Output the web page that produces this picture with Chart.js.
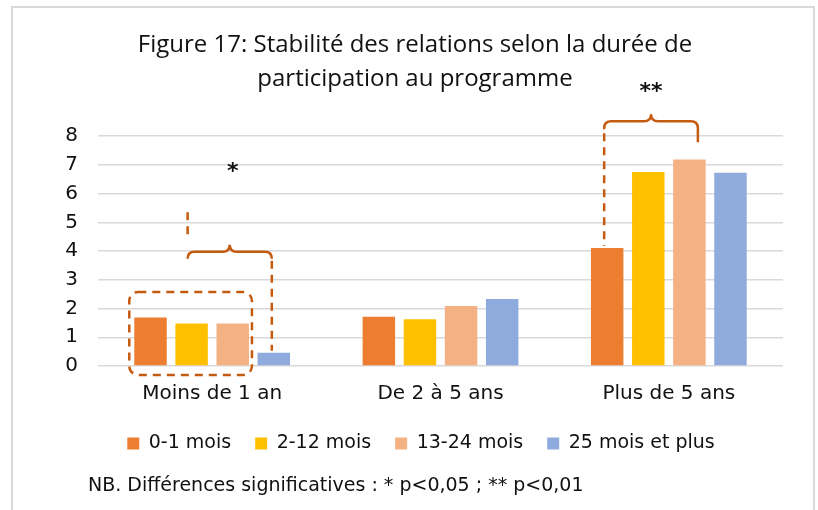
<!DOCTYPE html>
<html lang="fr">
<head>
<meta charset="utf-8">
<title>Figure 17</title>
<script src="https://cdn.jsdelivr.net/npm/chart.js@4"></script>
<style>
    html, body { margin: 0; padding: 0; background: #fff; }
    #wrap { position: relative; width: 818px; height: 510px; overflow: hidden; }
    #frame { position: absolute; left: 11px; top: 6px; width: 800px; height: 520px; border: 2px solid #d9d9d9; }
    #chart { position: absolute; left: 0; top: 0; }
    #note { position: absolute; left: 88px; top: 473px; font-family: "DejaVu Sans", sans-serif; font-size: 19px; color: #111; white-space: nowrap; }
</style>
</head>
<body>
<div id="wrap">
    <div id="frame"></div>
    <canvas id="chart" width="818" height="510"></canvas>
    <div id="note">NB. Différences significatives : * p&lt;0,05 ; ** p&lt;0,01</div>
</div>
<script>
const categories = ['Moins de 1 an', 'De 2 à 5 ans', 'Plus de 5 ans'];
const seriesNames = ['0-1 mois', '2-12 mois', '13-24 mois', '25 mois et plus'];
const mois0_1 = [1.69, 1.71, 4.11];
const mois2_12 = [1.48, 1.63, 6.75];
const mois13_24 = [1.48, 2.09, 7.19];
const mois25plus = [0.46, 2.33, 6.73];
const yTicks = [0, 1, 2, 3, 4, 5, 6, 7, 8];

const colors = ['#ED7D31', '#FFC000', '#F4B183', '#8FAADC'];
const textFont = 'DejaVu Sans';

// curly bracket, drawn solid
function brace(ctx, x1, x2, yy, r, dropLeft, dropRight) {
    const xm = (x1 + x2) / 2;
    ctx.beginPath();
    ctx.moveTo(x1, yy + dropLeft);
    ctx.lineTo(x1, yy + r);
    ctx.quadraticCurveTo(x1, yy, x1 + r, yy);
    ctx.lineTo(xm - r, yy);
    ctx.quadraticCurveTo(xm, yy, xm, yy - r);
    ctx.quadraticCurveTo(xm, yy, xm + r, yy);
    ctx.lineTo(x2 - r, yy);
    ctx.quadraticCurveTo(x2, yy, x2, yy + r);
    ctx.lineTo(x2, yy + dropRight);
    ctx.stroke();
}

function dashed(ctx, x, y1, y2) {
    ctx.save();
    ctx.setLineDash([8, 6]);
    ctx.beginPath();
    ctx.moveTo(x, y1);
    ctx.lineTo(x, y2);
    ctx.stroke();
    ctx.restore();
}

const bracketPlugin = {
    id: 'brackets',
    afterLayout(chart) {
        // legend sits a little right of the title in the original
        chart.legend.left += 6;
        chart.legend.right += 6;
    },
    afterDatasetsDraw(chart) {
        const ctx = chart.ctx;
        const y = chart.scales.y;
        const bar = (ds, i) => chart.getDatasetMeta(ds).data[i];
        ctx.save();
        ctx.strokeStyle = '#C55A11';
        ctx.lineWidth = 2.5;

        // Moins de 1 an : box round the first three bars
        const a0 = bar(0, 0), a1 = bar(1, 0), a2 = bar(2, 0), a3 = bar(3, 0);
        const left = a0.x - a0.width / 2 - 5;
        const right = a2.x + a2.width / 2 + 3;
        const top = y.getPixelForValue(2.58);
        const bottom = y.getPixelForValue(0) + 9;
        ctx.save();
        ctx.setLineDash([8, 6]);
        ctx.beginPath();
        ctx.roundRect(left, top, right - left, bottom - top, 9);
        ctx.stroke();
        ctx.restore();

        const bx1 = a1.x - 4, bx2 = a3.x - 2;
        const by = y.getPixelForValue(3.98);
        dashed(ctx, bx1, y.getPixelForValue(5.35), y.getPixelForValue(4.4));
        brace(ctx, bx1, bx2, by, 7, 7, 7);
        dashed(ctx, bx2, by + 9, a3.y - 2);

        // Plus de 5 ans
        const c0 = bar(0, 2), c2 = bar(2, 2);
        const cx1 = c0.x - 3, cx2 = c2.x + 8.5;
        const cy = y.getPixelForValue(8.52);
        brace(ctx, cx1, cx2, cy, 7, 8, 21);
        dashed(ctx, cx1, cy + 12, c0.y - 2);

        ctx.fillStyle = '#111';
        ctx.font = 'bold 22px "' + textFont + '"';
        ctx.textAlign = 'center';
        ctx.textBaseline = 'middle';
        ctx.fillText('*', (bx1 + bx2) / 2 + 3, y.getPixelForValue(6.75));
        ctx.fillText('**', (cx1 + cx2) / 2, y.getPixelForValue(9.52));
        ctx.restore();
    }
};

const datasets = [mois0_1, mois2_12, mois13_24, mois25plus].map((values, i) => ({
    label: seriesNames[i],
    data: values,
    backgroundColor: colors[i],
    categoryPercentage: 0.72,
    barPercentage: 0.79
}));

new Chart(document.getElementById('chart').getContext('2d'), {
    type: 'bar',
    data: { labels: categories, datasets: datasets },
    plugins: [bracketPlugin],
    options: {
        responsive: false,
        animation: false,
        layout: { padding: { left: 47, right: 35, top: 0, bottom: 47 } },
        scales: {
            x: {
                grid: { display: false, drawTicks: false },
                border: { display: false },
                afterFit: (axis) => { axis.height = 44; },
                ticks: { color: '#111', padding: 16, font: { family: textFont, size: 20 } }
            },
            y: {
                min: 0,
                max: 8,
                afterBuildTicks: (axis) => { axis.ticks = yTicks.map(v => ({ value: v })); },
                afterFit: (axis) => { axis.width = 51; },
                grid: { color: '#d9d9d9', lineWidth: 1.5, drawTicks: false },
                border: { display: false },
                ticks: { color: '#111', padding: 20, font: { family: textFont, size: 20 } }
            }
        },
        plugins: {
            title: {
                display: true,
                text: ['Figure 17: Stabilité des relations selon la durée de', 'participation au programme'],
                color: '#111',
                font: { family: 'Open Sans', size: 24, weight: 'normal', lineHeight: 1.42 },
                padding: { top: 28, bottom: 40 }
            },
            legend: {
                position: 'bottom',
                labels: {
                    color: '#111',
                    boxWidth: 12,
                    boxHeight: 12,
                    padding: 24,
                    font: { family: textFont, size: 19 }
                }
            },
            tooltip: { enabled: false }
        }
    }
});
</script>
</body>
</html>
